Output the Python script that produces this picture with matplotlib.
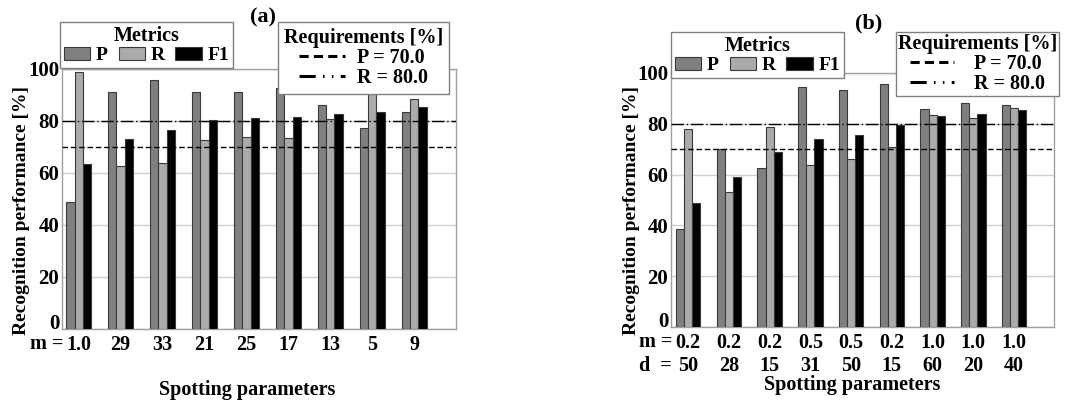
import numpy as np
import matplotlib
matplotlib.use("Agg")
import matplotlib.pyplot as plt
from matplotlib.patches import Patch
from matplotlib.lines import Line2D
from matplotlib.transforms import blended_transform_factory

plt.rcParams['font.family'] = ['Liberation Serif', 'DejaVu Serif']
plt.rcParams['font.weight'] = 'bold'

# ---------------- data ----------------
metrics = ["P", "R", "F1"]
req_labels = ["P = 70.0", "R = 80.0"]
req_values = [70.0, 80.0]

a_ticks = ["1.0", "29", "33", "21", "25", "17", "13", "5", "9"]
a_P = [49.0, 91.2, 95.8, 91.2, 91.2, 92.7, 86.2, 77.3, 83.6]
a_R = [99.0, 62.8, 64.0, 72.7, 73.8, 73.5, 80.8, 92.4, 88.3]
a_F1 = [63.3, 73.2, 76.5, 80.4, 81.2, 81.5, 82.7, 83.5, 85.3]

b_m = ["0.2", "0.2", "0.2", "0.5", "0.5", "0.2", "1.0", "1.0", "1.0"]
b_d = ["50", "28", "15", "31", "50", "15", "60", "20", "40"]
b_P = [38.5, 70.0, 62.7, 94.5, 93.2, 95.8, 85.7, 88.1, 87.4]
b_R = [77.9, 53.0, 78.7, 63.9, 66.2, 70.9, 83.4, 82.2, 86.1]
b_F1 = [48.9, 59.2, 69.0, 73.9, 75.6, 79.7, 82.9, 83.9, 85.6]

yticks = [0, 20, 40, 60, 80, 100]

# ---------------- style ----------------
bar_colors = ["#808080", "#ababab", "#000000"]
edge = "#3a3a3a"
spine_c = "#a0a0a0"
grid_c = "#d0d0d0"
dash_P = (0, (4, 2))
dash_R = (0, (9, 2, 1, 2))
leg_dash_P = (0, (3.0, 1.7))
leg_dash_R = (0, (5.3, 2.4, 0.5, 2.4, 0.5, 2.4))

fig = plt.figure(figsize=(10.65, 4.0), dpi=100)


def draw(ax, series, tick_labels, xlim, prefix, prefix_x):
    x = np.arange(len(series[0]))
    w = 0.2
    for i, vals in enumerate(series):
        ax.bar(x + (i - 1) * w, vals, width=w, color=bar_colors[i],
               edgecolor=edge, linewidth=0.8, zorder=3)
    ax.axhline(req_values[0], color="black", lw=1.0, ls=dash_P, zorder=4)
    ax.axhline(req_values[1], color="black", lw=1.0, ls=dash_R, zorder=4)
    ax.set_xlim(*xlim)
    ax.set_ylim(0, 100)
    ax.set_yticks(yticks)
    ax.set_yticklabels([str(t) for t in yticks], fontsize=15, fontweight='bold')
    ax.get_yticklabels()[0].set_va('baseline')
    ax.set_xticks(x)
    ax.set_xticklabels(tick_labels, fontsize=14.5, fontweight='bold',
                       linespacing=1.25)
    ax.tick_params(axis='both', length=0, pad=2)
    ax.tick_params(axis='x', pad=4)
    ax.yaxis.grid(True, color=grid_c, lw=1.0, zorder=0)
    ax.set_axisbelow(True)
    for s in ax.spines.values():
        s.set_color(spine_c)
        s.set_linewidth(1.0)
    ax.set_ylabel("Recognition performance [%]", fontsize=14, fontweight='bold')
    ax.set_xlabel("Spotting parameters", fontsize=14.5, fontweight='bold')
    tr = blended_transform_factory(ax.transData, ax.transAxes)
    ax.text(prefix_x, -0.019, prefix, transform=tr, ha='right', va='top',
            fontsize=14.5, fontweight='bold', linespacing=1.25,
            multialignment='left')


def legends(anchor_m, anchor_r, req_pad, req_textpad, req_hl):
    mh = [Patch(facecolor=bar_colors[i], edgecolor=edge, lw=0.8)
          for i in range(3)]
    lm = fig.legend(mh, metrics, loc='upper left', bbox_to_anchor=anchor_m,
                    bbox_transform=fig.transFigure, ncol=3, title="Metrics",
                    fontsize=14, title_fontproperties={'weight': 'bold', 'size': 14.5},
                    frameon=True, fancybox=False, framealpha=1, edgecolor="#808080",
                    borderaxespad=0, borderpad=0.2, handlelength=1.35,
                    handleheight=0.7, handletextpad=0.3, columnspacing=0.55,
                    labelspacing=0.05)
    lm.get_frame().set_linewidth(1.0)
    rh = [Line2D([], [], color='black', lw=2.2, ls=leg_dash_P),
          Line2D([], [], color='black', lw=2.2, ls=leg_dash_R)]
    lr = fig.legend(rh, req_labels, loc='upper left', bbox_to_anchor=anchor_r,
                    bbox_transform=fig.transFigure, ncol=1,
                    title="Requirements [%]", fontsize=14.5,
                    title_fontproperties={'weight': 'bold', 'size': 14.5},
                    frameon=True, fancybox=False, framealpha=1, edgecolor="#808080",
                    borderaxespad=0, borderpad=req_pad, handlelength=req_hl,
                    handletextpad=req_textpad, labelspacing=0.0)
    lr.get_frame().set_linewidth(1.0)


W, H = 1065.0, 400.0

ax1 = fig.add_axes([62 / W, (H - 329) / H, 394 / W, 260 / H])
draw(ax1, [a_P, a_R, a_F1], a_ticks, (-0.4, 9.0), "m =", -0.37)
ax1.yaxis.set_label_coords(-0.081, 0.454)
ax1.xaxis.set_label_coords(0.47, -0.196)

ax2 = fig.add_axes([671 / W, (H - 327) / H, 383 / W, 254 / H])
b_ticks = [m + "\n" + d for m, d in zip(b_m, b_d)]
draw(ax2, [b_P, b_R, b_F1], b_ticks, (-0.42, 8.98), "m =\nd  =", -0.38)
ax2.yaxis.set_label_coords(-0.081, 0.46)
ax2.xaxis.set_label_coords(0.473, -0.19)

legends((60 / W, 1 - 22 / H), (278 / W, 1 - 22 / H), 0.3, 0.6, 2.3)
legends((671 / W, 1 - 32 / H), (896 / W, 1 - 32 / H), 0.1, 1.0, 2.2)

fig.text(263 / W, 1 - 17 / H, "(a)", ha='center', va='center',
         fontsize=16, fontweight='bold')
fig.text(869 / W, 1 - 23 / H, "(b)", ha='center', va='center',
         fontsize=16, fontweight='bold')

fig.savefig("out.png", dpi=100)
